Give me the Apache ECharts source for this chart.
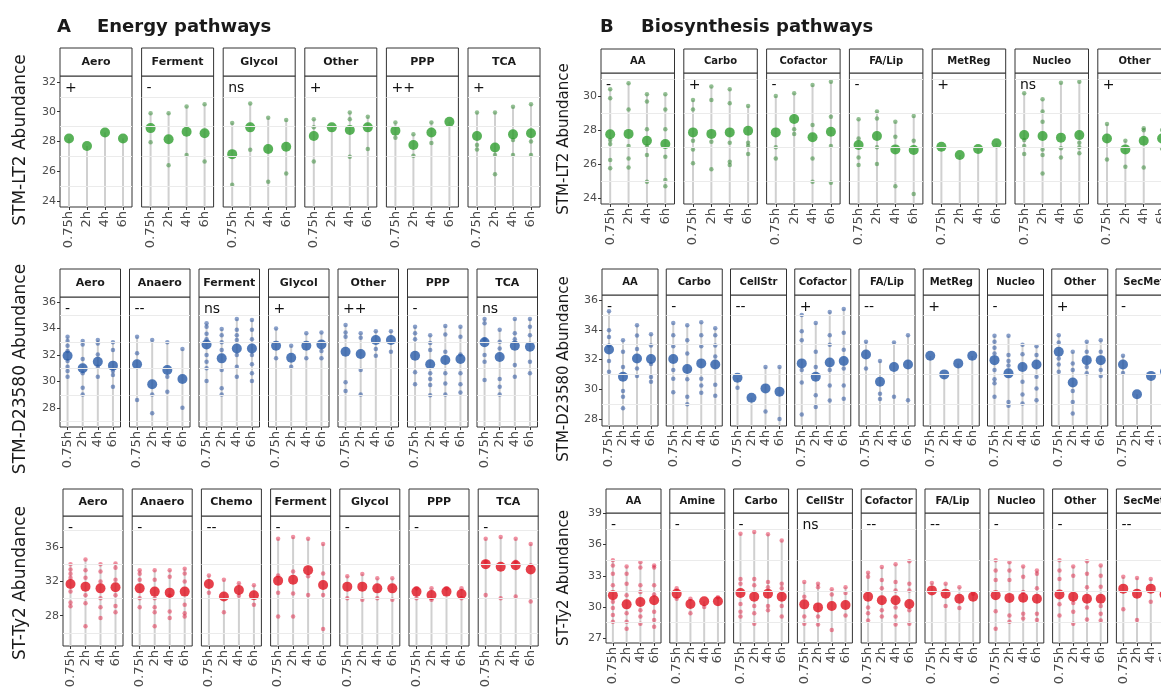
<!DOCTYPE html>
<html><head><meta charset="utf-8">
<script src="https://cdn.jsdelivr.net/npm/echarts@6/dist/echarts.min.js"></script>
<style>html,body{margin:0;padding:0;background:#fff}#c{width:1161px;height:688px}</style>
</head><body><div id="c"></div>
<script>
const times = ['0.75h','2h','4h','6h'];

// ---------- A, row 1 : STM-LT2, energy ----------
const A1_names = ['Aero','Ferment','Glycol','Other','PPP','TCA'];
const A1_sig = ['+','-','ns','+','++','+'];
const A1_mean = [[28.2,27.7,28.6,28.2],[28.9,28.15,28.65,28.55],[27.15,28.95,27.5,27.65],[28.37,28.95,28.77,28.95],[28.73,27.76,28.6,29.33],[28.37,27.6,28.48,28.55]];
const A1_pts = [
 [[],[],[],[]],
 [[29.9,27.95],[29.9,26.4],[30.35,27.1],[30.5,26.65]],
 [[29.25,25.1],[30.55,27.45],[29.6,25.3],[29.45,25.85]],
 [[29.5,28.95,26.65],[],[29.94,29.5,26.98],[29.67,27.5]],
 [[29.27,28.26],[28.48,27.05],[29.27,27.9],[]],
 [[29.94,27.76,27.47],[29.94,27.1,25.8],[30.34,28.1,27.1],[30.5,28.0,27.1]]
];
const A1_ticks = [24,26,28,30,32];
const A1_minor = [25,27,29,31];

// ---------- B, row 1 : STM-LT2, biosynthesis ----------
const B1_names = ['AA','Carbo','Cofactor','FA/Lip','MetReg','Nucleo','Other'];
const B1_sig = ['-','+','-','-','+','ns','+'];
const B1_mean = [[27.75,27.77,27.37,27.18],[27.86,27.77,27.86,27.96],[27.86,28.65,27.57,27.9],[27.12,27.65,26.86,26.82],[27.02,26.53,26.88,27.22],[27.7,27.65,27.55,27.7],[27.5,26.86,27.37,27.5]];
const B1_pts = [
 [[30.4,29.86,27.41,27.18,26.24,25.75],[30.75,29.2,27.06,26.33,25.8],[30.1,29.67,28.04,27.06,26.53,24.96],[30.1,29.2,28.04,26.43,25.06,24.7]],
 [[29.76,29.2,27.37,26.86,26.04],[30.55,29.76,27.31,25.69],[30.4,29.57,27.25,26.14,25.94],[29.41,27.25,27.06,26.59]],
 [[30.0,26.98,26.33],[30.16,28.04,27.77],[30.65,28.29,26.33,24.96],[30.84,28.78,27.06,24.9]],
 [[28.63,27.5,26.39,25.94],[29.08,28.67,26.98,26.0],[28.49,27.6,24.7],[28.82,27.37,24.24]],
 [[],[],[],[]],
 [[30.16,27.41,27.06,26.59],[29.8,29.08,28.49,26.86,26.53,25.45],[30.78,26.92,26.39],[30.84,27.25,26.98,26.63]],
 [[28.35,26.27],[27.37,25.84],[28.1,27.98,25.8],[28.0,26.9]]
];
const B1_ticks = [24,26,28,30];
const B1_minor = [25,27,29,31];

// ---------- A, row 2 : STM-D23580, energy ----------
const A2_names = ['Aero','Anaero','Ferment','Glycol','Other','PPP','TCA'];
const A2_sig = ['-','--','ns','+','++','-','ns'];
const A2_mean = [[31.95,31.0,31.5,31.2],[31.3,29.79,30.87,30.19],[32.8,31.75,32.5,32.5],[32.7,31.8,32.7,32.8],[32.25,32.08,33.13,33.13],[31.95,31.3,31.63,31.7],[32.96,31.85,32.7,32.63]];
const A2_pts = [
 [[33.38,33.06,32.7,32.3,31.55,31.12,30.8,30.37],[33.06,32.8,31.7,30.62,29.53,29.03],[33.13,32.88,32.05,31.12,30.37],[32.96,32.38,30.8,30.5,29.6]],
 [[33.38,32.13,28.6],[33.13,29.03,27.6],[32.96,30.37,29.23],[32.45,28.02]],
 [[34.39,34.13,33.6,33.2,32.0,31.5,31.0,30.04],[33.96,33.5,32.96,32.38,30.87,29.49,29.03],[34.72,33.9,33.5,33.13,32.0,31.12,30.37],[34.65,33.9,33.2,32.0,31.3,30.62,30.04]],
 [[34.0,31.75],[32.7,31.12],[33.64,31.75],[33.7,32.3,31.75]],
 [[34.26,33.7,33.38,29.94,29.28],[33.64,33.3,30.87,29.03],[33.8,32.45,31.95],[33.8,32.25]],
 [[34.13,33.64,33.2,30.7,29.79],[33.5,32.9,32.38,30.62,30.2,29.73,28.97],[34.2,33.55,32.25,30.62,29.86,29.03],[34.13,33.38,32.05,30.62,29.79,29.18]],
 [[34.72,34.39,33.2,32.0,31.5,30.12],[33.9,33.0,32.5,30.2,29.6,29.03],[34.72,33.64,33.2,31.25,30.37],[34.72,34.13,33.5,31.5,30.62]]
];
const A2_ticks = [28,30,32,34,36];
const A2_minor = [27,29,31,33,35];

// ---------- B, row 2 : STM-D23580, biosynthesis ----------
const B2_names = ['AA','Carbo','CellStr','Cofactor','FA/Lip','MetReg','Nucleo','Other','SecMet'];
const B2_sig = ['-','-','--','+','--','+','-','+','-'];
const B2_mean = [[32.68,30.84,32.07,32.03],[32.03,31.36,31.74,31.67],[30.77,29.43,30.06,29.84],[31.74,30.84,31.8,31.9],[32.34,30.5,31.5,31.67],[32.25,31.0,31.74,32.25],[31.96,31.07,31.5,31.67],[32.52,30.46,31.96,31.96],[31.67,29.66,30.9,31.2]];
const B2_pts = [
 [[35.25,33.97,33.52,32.95,31.9,31.18],[33.3,32.52,31.5,29.88,29.5,28.72],[34.3,33.62,32.7,31.4,30.9],[33.7,32.95,31.7,30.82,30.5]],
 [[34.45,33.64,32.9,31.3,30.7,29.8],[34.3,33.3,32.4,30.68,29.5,29.0],[34.5,33.64,32.9,30.7,30.26,29.77],[34.1,33.64,32.95,32.2,30.3,29.57]],
 [[30.1],[],[31.5,28.5],[31.5,28.0]],
 [[35.0,33.9,33.3,31.3,30.46,28.3],[34.45,32.52,31.5,29.6,28.8],[35.2,33.64,33.0,31.3,30.26,29.25],[35.4,33.8,32.65,31.4,30.26,29.37]],
 [[33.2,31.4],[31.9,29.7,29.34],[33.15,29.5],[33.64,29.27]],
 [[],[],[],[]],
 [[33.6,33.2,32.8,32.4,31.3,30.68,30.4,29.5],[33.6,32.3,31.9,31.6,29.15,28.9],[33.0,32.35,30.5,29.65,29.05],[32.9,32.3,30.84,30.06,29.27]],
 [[33.64,33.15,32.07,31.67,31.18],[32.52,31.74,31.3,29.88,29.15,28.37],[33.2,32.52,31.5,31.07],[33.3,32.52,31.3,30.9]],
 [[32.25,31.1],[],[],[]]
];
const B2_ticks = [28,30,32,34,36];
const B2_minor = [29,31,33,35];

// ---------- A, row 3 : ST-Ty2, energy ----------
const A3_names = ['Aero','Anaero','Chemo','Ferment','Glycol','PPP','TCA'];
const A3_sig = ['-','-','--','-','-','-','-'];
const A3_mean = [[31.71,31.4,31.2,31.32],[31.2,30.82,30.7,30.82],[31.71,30.24,31.0,30.4],[32.1,32.2,33.33,31.6],[31.4,31.4,31.2,31.2],[30.82,30.43,30.82,30.55],[34.03,33.72,33.9,33.4]];
const A3_pts = [
 [[34.03,33.4,32.9,32.45,30.82,29.55,29.1],[34.57,33.33,32.45,30.4,29.45,26.77],[34.03,33.17,32.0,30.05,29.0,27.72],[34.1,33.6,32.2,30.4,29.15,28.4]],
 [[33.33,32.9,32.2,30.05,29.0],[33.33,32.2,30.05,29.0,28.4,26.77],[33.33,32.55,30.35,28.5,27.72],[33.5,32.95,32.0,29.27,28.3,27.9]],
 [[32.7,30.7],[32.2,28.4],[31.8,30.35],[31.57,29.27]],
 [[37.0,32.7,30.7,27.9],[37.2,33.17,30.6,27.9],[37.0,32.63,30.43],[36.4,32.95,30.43,26.46]],
 [[32.63,30.05],[32.87,29.86],[32.37,30.05],[32.37,29.86]],
 [[31.2,30.05],[31.2,29.86],[31.2],[31.2,30.05]],
 [[37.0,34.3,30.43],[37.2,30.05],[37.0,34.3,30.24],[36.4,33.9,29.66]]
];
const A3_ticks = [28,32,36];
const A3_minor = [26,30,34,38];

// ---------- B, row 3 : ST-Ty2, biosynthesis ----------
const B3_names = ['AA','Amine','Carbo','CellStr','Cofactor','FA/Lip','Nucleo','Other','SecMet'];
const B3_sig = ['-','-','-','ns','--','--','-','-','--'];
const B3_mean = [[31.13,30.26,30.48,30.65],[31.29,30.3,30.55,30.55],[31.35,31.0,31.29,31.0],[30.26,29.97,30.1,30.2],[31.0,30.65,30.65,30.3],[31.6,31.29,30.8,31.0],[31.13,30.88,30.9,30.8],[31.2,31.0,30.8,30.8],[31.77,31.29,31.77,31.2]];
const B3_pts = [
 [[34.49,34.0,33.2,32.1,30.5,29.9,29.24,28.6],[33.9,33.2,32.25,31.13,29.4,28.6,27.93],[34.3,33.8,32.1,31.45,29.7,29.1,28.4],[34.0,33.8,32.1,31.2,29.55,28.75,28.1]],
 [[31.8,30.8],[30.8,29.4],[30.0],[30.95]],
 [[37.05,32.7,32.25,30.3,29.55,29.1],[37.2,32.7,32.1,30.1,29.4,28.4],[37.0,32.4,31.9,30.1,29.7],[36.4,32.25,31.8,30.1,29.1]],
 [[32.4,31.0,29.1,28.4],[32.25,31.9,29.1,28.33],[31.7,31.2,27.8],[31.9,31.35,29.2]],
 [[33.3,32.9,29.97,29.4,28.7],[33.84,32.6,31.8,29.7,29.1],[34.1,32.4,31.6,29.97,29.1,28.33],[34.4,32.25,31.6,29.7,28.4]],
 [[32.3],[32.25,30.1],[31.9,29.9],[31.29]],
 [[34.49,33.5,32.6,29.6,27.93],[34.3,33.5,32.6,29.2,28.6],[33.9,32.9,31.45,29.35,28.9],[33.5,33.2,31.8,29.35,28.75]],
 [[34.49,33.5,32.7,30.26,29.2],[33.9,33.0,30.4,29.55,28.4],[34.4,33.2,31.9,29.97,28.8],[34.0,33.0,31.95,30.1,29.35,28.7]],
 [[32.9,29.8],[32.8,28.75],[32.7,30.5],[32.5]]
];
const B3_ticks = [27,30,33,36,39];
const B3_minor = [28.5,31.5,34.5,37.5];

const yTitles = ['STM-LT2 Abundance','STM-D23580 Abundance','ST-Ty2 Abundance'];
const panelTitles = [['A','Energy pathways'],['B','Biosynthesis pathways']];

// ---------- layout (pixels / styles only) ----------
const FONT = 'DejaVu Sans';
const GREEN = '#2e9e2e', BLUE = '#2659a6', RED = '#e0101e';
const SGREEN = 'rgba(60,140,60,0.7)', SBLUE = 'rgba(45,85,160,0.7)', SRED = 'rgba(225,25,60,0.6)';
const rows = [
 {names:A1_names,sig:A1_sig,mean:A1_mean,pts:A1_pts,ticks:A1_ticks,minor:A1_minor,color:GREEN,scol:SGREEN,
  x0:60,step:81.6,w:72,hTop:48,hBot:76,bot:207,yMin:23.6,yMax:32.4,hf:11,title:yTitles[0],tx:21,ty:140,tf:17},
 {names:B1_names,sig:B1_sig,mean:B1_mean,pts:B1_pts,ticks:B1_ticks,minor:B1_minor,color:GREEN,scol:SGREEN,
  x0:601,step:82.8,w:73.5,hTop:49,hBot:73,bot:204,yMin:23.65,yMax:31.35,hf:10,title:yTitles[0],tx:564,ty:139,tf:15},
 {names:A2_names,sig:A2_sig,mean:A2_mean,pts:A2_pts,ticks:A2_ticks,minor:A2_minor,color:BLUE,scol:SBLUE,
  x0:60,step:69.5,w:60.5,hTop:269,hBot:297,bot:427,yMin:26.57,yMax:36.38,hf:11,title:yTitles[1],tx:21,ty:369,tf:17},
 {names:B2_names,sig:B2_sig,mean:B2_mean,pts:B2_pts,ticks:B2_ticks,minor:B2_minor,color:BLUE,scol:SBLUE,
  x0:602,step:64.25,w:56,hTop:269,hBot:295,bot:426,yMin:27.53,yMax:36.34,hf:10,title:yTitles[1],tx:564,ty:369,tf:15},
 {names:A3_names,sig:A3_sig,mean:A3_mean,pts:A3_pts,ticks:A3_ticks,minor:A3_minor,color:RED,scol:SRED,
  x0:63,step:69.2,w:60,hTop:489,hBot:516,bot:646,yMin:24.46,yMax:39.66,hf:11,title:yTitles[2],tx:21,ty:583,tf:17},
 {names:B3_names,sig:B3_sig,mean:B3_mean,pts:B3_pts,ticks:B3_ticks,minor:B3_minor,color:RED,scol:SRED,
  x0:606,step:63.8,w:55,hTop:489,hBot:513,bot:643,yMin:26.55,yMax:39.03,hf:10,title:yTitles[2],tx:564,ty:578,tf:15}
];

const grid=[], xAxis=[], yAxis=[], series=[], graphic=[];
let gi = 0;
rows.forEach(r=>{
  r.names.forEach((name,j)=>{
    const left = r.x0 + j*r.step;
    grid.push({left:left, top:r.hBot, width:r.w, height:r.bot-r.hBot, show:true,
      outerBoundsMode:'none', containLabel:false,
      borderColor:'#333', borderWidth:1, backgroundColor:'#fff'});
    xAxis.push({type:'category', gridIndex:gi, data:times, boundaryGap:true,
      axisLine:{show:false}, splitLine:{show:false},
      axisTick:{show:true, alignWithLabel:true, length:3, lineStyle:{color:'#333'}},
      axisLabel:{rotate:90, fontSize:13, color:'#4d4d4d', margin:4, fontFamily:FONT, interval:0, hideOverlap:false}});
    yAxis.push({type:'value', gridIndex:gi, min:r.yMin, max:r.yMax,
      axisLine:{show:false}, splitLine:{show:false},
      axisTick:{show:j===0, length:3, customValues:r.ticks, lineStyle:{color:'#333'}},
      axisLabel:{show:j===0, customValues:r.ticks, fontSize:11, color:'#4d4d4d', margin:4, fontFamily:FONT}});
    // faint minor grid lines
    series.push({type:'line', xAxisIndex:gi, yAxisIndex:gi, data:[], silent:true, z:1,
      markLine:{silent:true, symbol:['none','none'], animation:false, label:{show:false},
        lineStyle:{color:'#ebebeb', width:1, type:'solid'},
        emphasis:{disabled:true},
        data:r.minor.map(v=>({yAxis:v}))}});
    // vertical ranges from panel bottom to highest value
    const segs = times.map((t,i)=>[i, Math.max(r.mean[j][i], ...r.pts[j][i])]);
    series.push({type:'custom', xAxisIndex:gi, yAxisIndex:gi, data:segs, z:2, silent:true,
      encode:{x:0,y:1},
      renderItem:(params, api)=>{
        const p = api.coord([api.value(0), api.value(1)]);
        const cs = params.coordSys;
        return {type:'line', shape:{x1:p[0], y1:cs.y+cs.height, x2:p[0], y2:p[1]},
          style:{stroke:'#d0d0d0', lineWidth:2}};
      }});
    const small = [];
    r.pts[j].forEach((arr,i)=>arr.forEach(v=>small.push([i,v])));
    series.push({type:'scatter', xAxisIndex:gi, yAxisIndex:gi, data:small, z:3, silent:true,
      symbolSize:4.5, itemStyle:{color:r.scol}});
    series.push({type:'scatter', xAxisIndex:gi, yAxisIndex:gi, data:r.mean[j].map((v,i)=>[i,v]), z:4, silent:true,
      symbolSize:10, itemStyle:{color:r.color}});
    // strip header
    graphic.push({type:'rect', z:50, silent:true, shape:{x:left, y:r.hTop, width:r.w, height:r.hBot-r.hTop},
      style:{fill:'#fff', stroke:'#333', lineWidth:1}});
    graphic.push({type:'text', z:51, silent:true, x:left+r.w/2, y:(r.hTop+r.hBot)/2,
      style:{text:name, fill:'#1a1a1a', font:'bold '+r.hf+'px '+FONT, textAlign:'center', textVerticalAlign:'middle'}});
    // significance label
    graphic.push({type:'text', z:60, silent:true, x:left+5, y:r.hBot+12,
      style:{text:r.sig[j], fill:'#111', font:'14px '+FONT, textAlign:'left', textVerticalAlign:'middle'}});
    gi++;
  });
  graphic.push({type:'text', z:60, silent:true, x:r.tx, y:r.ty, rotation:Math.PI/2,
    style:{text:r.title, fill:'#1a1a1a', font:r.tf+'px '+FONT, textAlign:'center', textVerticalAlign:'middle'}});
});
// panel titles
graphic.push({type:'text', x:57, y:27, style:{text:panelTitles[0][0], fill:'#1a1a1a', font:'bold 18px '+FONT, textVerticalAlign:'middle'}});
graphic.push({type:'text', x:97, y:27, style:{text:panelTitles[0][1], fill:'#1a1a1a', font:'bold 18px '+FONT, textVerticalAlign:'middle'}});
graphic.push({type:'text', x:600, y:27, style:{text:panelTitles[1][0], fill:'#1a1a1a', font:'bold 18px '+FONT, textVerticalAlign:'middle'}});
graphic.push({type:'text', x:641, y:27, style:{text:panelTitles[1][1], fill:'#1a1a1a', font:'bold 18px '+FONT, textVerticalAlign:'middle'}});

const chart = echarts.init(document.getElementById('c'), null, {renderer:'canvas'});
chart.setOption({animation:false, backgroundColor:'#fff', grid, xAxis, yAxis, series, graphic});
</script></body></html>
